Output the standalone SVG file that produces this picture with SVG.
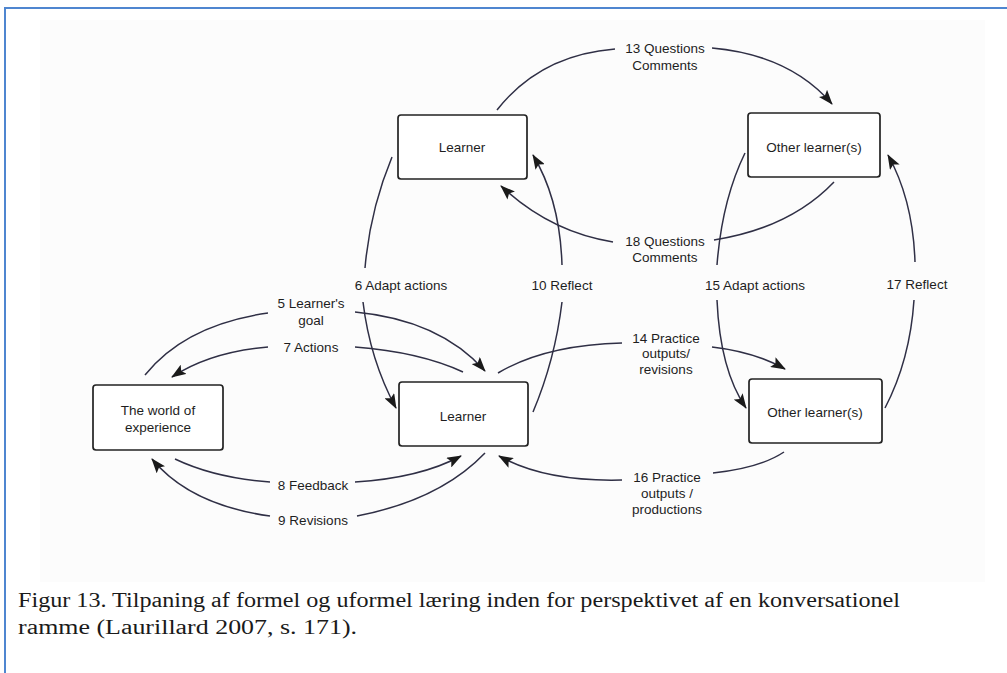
<svg xmlns="http://www.w3.org/2000/svg" width="1007" height="673" viewBox="0 0 1007 673">
<style>
.box{fill:#ffffff;stroke:#222222;stroke-width:1.7}
.lbl{font-family:"Liberation Sans",Arial,sans-serif;font-size:13.5px;fill:#1e1e1e;text-anchor:middle}
.con{fill:none;stroke:#2f2f45;stroke-width:1.5}
.cap{font-family:"Liberation Serif","Times New Roman",serif;font-size:20px;fill:#1a1a1a}
</style>
<defs>
<marker id="ah" markerUnits="userSpaceOnUse" markerWidth="15" markerHeight="11" refX="14" refY="5.5" orient="auto">
<path d="M0,0 L15,5.5 L0,11 L3,5.5 z" fill="#1a1a1a"/>
</marker>
</defs>
<rect x="0" y="0" width="1007" height="673" fill="#ffffff"/>
<rect x="40" y="20" width="945" height="562" fill="#fcfcfc"/>
<path d="M5,673 L5,8 L1007,8" fill="none" stroke="#4f86d0" stroke-width="2"/>

<g id="connectors">
<path class="con" d="M497,110 Q540,55 615,49"/>
<path class="con" d="M712,48 Q790,55 832,104" marker-end="url(#ah)"/>
<path class="con" d="M834,182 Q790,228 714,240"/>
<path class="con" d="M613,242 Q550,232 501,186" marker-end="url(#ah)"/>
<path class="con" d="M392,157 Q370,210 365,268"/>
<path class="con" d="M363,302 Q370,360 396,408" marker-end="url(#ah)"/>
<path class="con" d="M533,412 Q555,360 562,302"/>
<path class="con" d="M562,265 Q560,200 533,155" marker-end="url(#ah)"/>
<path class="con" d="M745,153 Q722,200 717,265"/>
<path class="con" d="M717,300 Q720,370 746,408" marker-end="url(#ah)"/>
<path class="con" d="M885,408 Q910,360 914,300"/>
<path class="con" d="M915,262 Q913,200 888,155" marker-end="url(#ah)"/>
<path class="con" d="M145,375 Q185,325 268,313"/>
<path class="con" d="M355,312 Q440,320 485,371" marker-end="url(#ah)"/>
<path class="con" d="M463,372 Q420,352 355,347"/>
<path class="con" d="M268,347 Q210,352 172,377" marker-end="url(#ah)"/>
<path class="con" d="M175,459 Q215,478 270,482"/>
<path class="con" d="M355,482 Q420,478 461,456" marker-end="url(#ah)"/>
<path class="con" d="M485,453 Q440,500 357,516"/>
<path class="con" d="M270,516 Q190,505 152,459" marker-end="url(#ah)"/>
<path class="con" d="M498,373 Q545,345 622,343"/>
<path class="con" d="M712,347 Q755,352 785,369" marker-end="url(#ah)"/>
<path class="con" d="M784,452 Q760,468 713,473"/>
<path class="con" d="M622,480 Q545,482 499,456" marker-end="url(#ah)"/>
</g>

<g id="labels">
<text class="lbl" x="665" y="53">13 Questions</text>
<text class="lbl" x="665" y="70">Comments</text>
<text class="lbl" x="665" y="246">18 Questions</text>
<text class="lbl" x="665" y="262">Comments</text>
<text class="lbl" x="401" y="290">6 Adapt actions</text>
<text class="lbl" x="562" y="290">10 Reflect</text>
<text class="lbl" x="755" y="290">15 Adapt actions</text>
<text class="lbl" x="917" y="289">17 Reflect</text>
<text class="lbl" x="311" y="308">5 Learner's</text>
<text class="lbl" x="311" y="325">goal</text>
<text class="lbl" x="311" y="352">7 Actions</text>
<text class="lbl" x="666" y="343">14 Practice</text>
<text class="lbl" x="666" y="358">outputs/</text>
<text class="lbl" x="666" y="374">revisions</text>
<text class="lbl" x="313" y="490">8 Feedback</text>
<text class="lbl" x="313" y="525">9 Revisions</text>
<text class="lbl" x="667" y="482">16 Practice</text>
<text class="lbl" x="667" y="498">outputs /</text>
<text class="lbl" x="667" y="514">productions</text>
</g>

<g id="learner-top">
<rect class="box" x="398" y="115" width="129" height="64" rx="3"/>
<text class="lbl" x="462" y="152">Learner</text>
</g>
<g id="other-top">
<rect class="box" x="748" y="113" width="132" height="64" rx="3"/>
<text class="lbl" x="814" y="152">Other learner(s)</text>
</g>
<g id="learner-bottom">
<rect class="box" x="399" y="382" width="129" height="64" rx="3"/>
<text class="lbl" x="463" y="421">Learner</text>
</g>
<g id="other-bottom">
<rect class="box" x="749" y="379" width="133" height="64" rx="3"/>
<text class="lbl" x="815" y="417">Other learner(s)</text>
</g>
<g id="world">
<rect class="box" x="93" y="385" width="130" height="65" rx="3"/>
<text class="lbl" x="158" y="415">The world of</text>
<text class="lbl" x="158" y="432">experience</text>
</g>

<g id="caption">
<text class="cap" x="18" y="607" textLength="882" lengthAdjust="spacingAndGlyphs">Figur 13. Tilpaning af formel og uformel læring inden for perspektivet af en konversationel</text>
<text class="cap" x="18" y="634" textLength="339" lengthAdjust="spacingAndGlyphs">ramme (Laurillard 2007, s. 171).</text>
</g>
</svg>
